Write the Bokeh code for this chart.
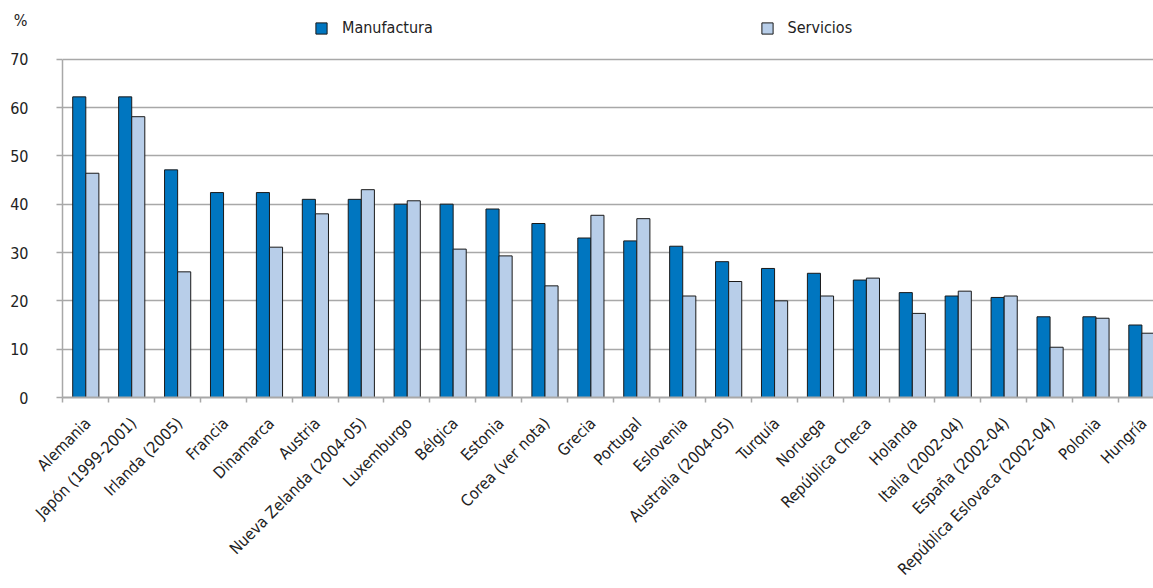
import math
from bokeh.plotting import figure
from bokeh.models import FixedTicker, Legend, LegendItem, Range1d, LinearAxis
from bokeh.embed import file_html
from bokeh.resources import INLINE

countries = ["Alemania", "Japón (1999-2001)", "Irlanda (2005)", "Francia", "Dinamarca",
             "Austria", "Nueva Zelanda (2004-05)", "Luxemburgo", "Bélgica", "Estonia",
             "Corea (ver nota)", "Grecia", "Portugal", "Eslovenia", "Australia (2004-05)",
             "Turquía", "Noruega", "República Checa", "Holanda", "Italia (2002-04)",
             "España (2002-04)", "República Eslovaca (2002-04)", "Polonia", "Hungría"]
manufactura = [62.2, 62.2, 47.1, 42.4, 42.4, 41.0, 41.0, 40.0, 40.0, 39.0, 36.0, 33.0,
               32.4, 31.3, 28.1, 26.7, 25.7, 24.3, 21.7, 21.0, 20.7, 16.7, 16.7, 15.0]
servicios = [46.4, 58.1, 26.0, None, 31.1, 38.0, 43.0, 40.7, 30.7, 29.3, 23.1, 37.7,
             37.0, 21.0, 24.0, 20.0, 21.0, 24.7, 17.4, 22.0, 21.0, 10.4, 16.4, 13.3]
series_names = ["Manufactura", "Servicios"]
yticks = [0, 10, 20, 30, 40, 50, 60, 70]
unit_label = "%"

FONT = "'DejaVu Sans Condensed', 'DejaVu Sans', sans-serif"
C_MANU = "#0076C0"
C_SERV = "#B8CEE9"
GRID = "#A8A8A8"
TXT = "#222222"

n = len(countries)
idx = list(range(n))
c0 = -0.05          # category centre relative to its label tick
bw = 0.285
x_manu = [i + c0 - 0.5 + 0.365 for i in idx]
x_serv = [i + c0 - 0.5 + 0.65 for i in idx if servicios[i] is not None]
top_serv = [v for v in servicios if v is not None]

p = figure(width=1153, height=588,
           x_range=Range1d(c0 - 0.5, c0 - 0.5 + 23.76), y_range=Range1d(0, 82.14),
           output_backend="svg", toolbar_location=None,
           min_border_left=62, min_border_right=0, min_border_top=0, min_border_bottom=191)
p.outline_line_color = None
p.background_fill_color = "white"
p.border_fill_color = "white"

r1 = p.vbar(x=x_manu, top=manufactura, bottom=0, width=bw, fill_color=C_MANU,
            line_color="#1a1a1a", line_width=1)
r2 = p.vbar(x=x_serv, top=top_serv, bottom=0, width=bw, fill_color=C_SERV,
            line_color="#1a1a1a", line_width=1)

p.xgrid.visible = False
p.ygrid.ticker = FixedTicker(ticks=yticks)
p.ygrid.grid_line_color = GRID
p.ygrid.grid_line_width = 1.5

ya = p.yaxis[0]
ya.ticker = FixedTicker(ticks=yticks)
ya.bounds = (0, 70)
ya.axis_line_color = GRID
ya.axis_line_width = 1.5
ya.major_tick_line_color = GRID
ya.major_tick_line_width = 1.5
ya.major_tick_out = 6
ya.major_tick_in = 0
ya.minor_tick_line_color = None
ya.major_label_standoff = 28
ya.major_label_text_font = FONT
ya.major_label_text_font_size = "16px"
ya.major_label_text_color = TXT

# unit label "%" at the top of the value axis
ua = LinearAxis(ticker=FixedTicker(ticks=[78]), major_label_overrides={78: unit_label})
ua.axis_line_color = None
ua.major_tick_line_color = None
ua.minor_tick_line_color = None
ua.major_tick_out = 0
ua.major_tick_in = 0
ua.major_label_standoff = -20
ua.major_label_text_font = FONT
ua.major_label_text_font_size = "16px"
ua.major_label_text_color = TXT
p.add_layout(ua, "left")

xa = p.xaxis[0]
xa.ticker = FixedTicker(ticks=idx, minor_ticks=[i + c0 - 0.5 for i in range(n + 1)])
xa.major_label_overrides = {i: c for i, c in enumerate(countries)}
xa.major_label_orientation = math.pi / 4
xa.major_tick_out = 0
xa.major_tick_in = 0
xa.major_tick_line_color = None
xa.minor_tick_out = 5
xa.minor_tick_in = 0
xa.minor_tick_line_color = GRID
xa.minor_tick_line_width = 1.5
xa.axis_line_color = GRID
xa.axis_line_width = 2
xa.major_label_standoff = 18
xa.major_label_text_font = FONT
xa.major_label_text_font_size = "16px"
xa.major_label_text_color = TXT

for name, r, xloc in [(series_names[0], r1, 252), (series_names[1], r2, 697.5)]:
    lg = Legend(items=[LegendItem(label=name, renderers=[r])], location=(xloc, 360),
                orientation="horizontal", glyph_width=14, glyph_height=14,
                label_standoff=14, padding=0, margin=0, border_line_color=None,
                background_fill_alpha=0, label_text_font=FONT,
                label_text_font_size="16px", label_text_color=TXT)
    p.add_layout(lg)

open("out.html", "w").write(file_html(p, INLINE))
